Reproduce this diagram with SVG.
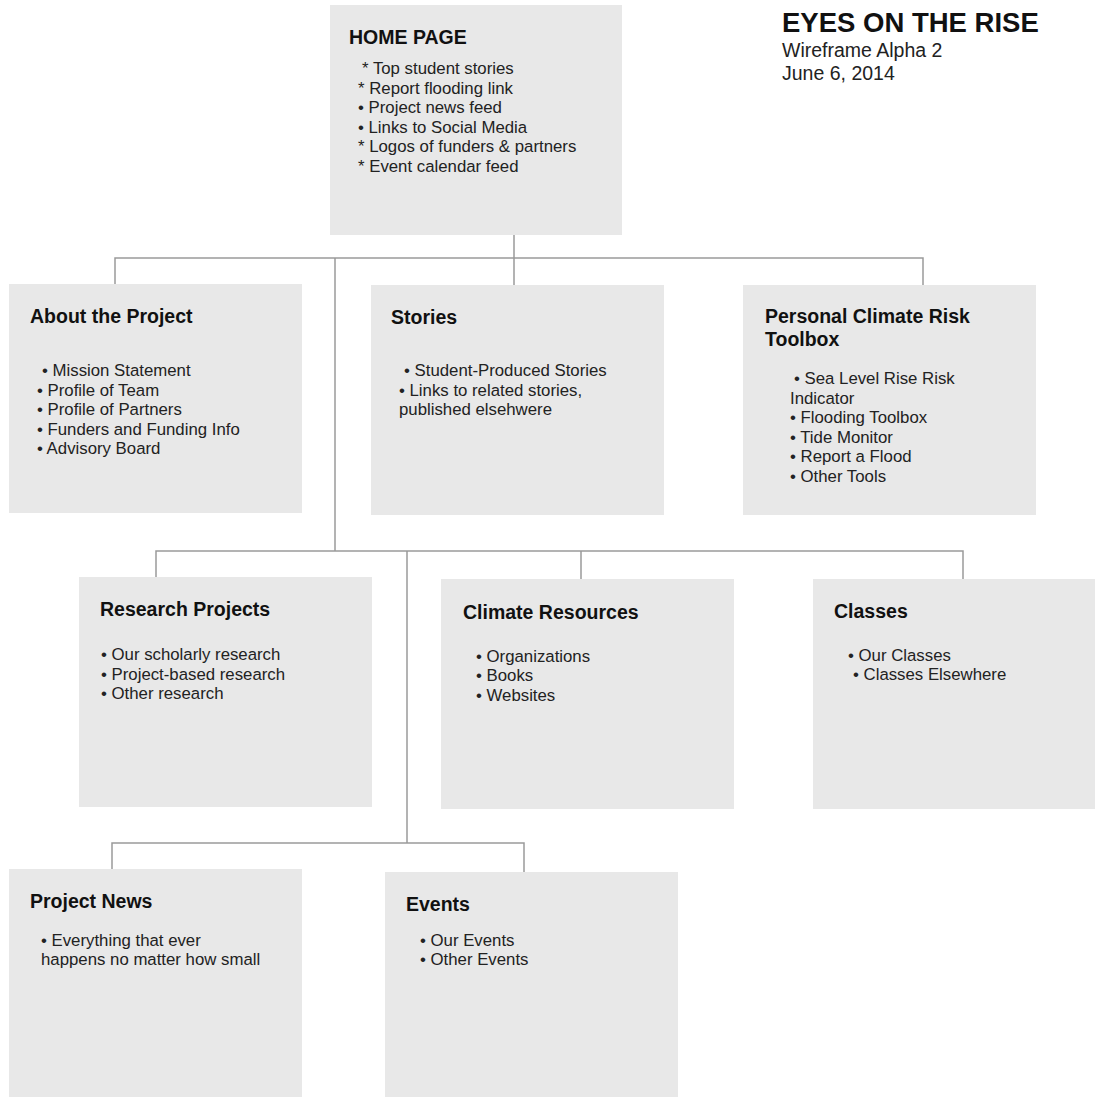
<svg xmlns="http://www.w3.org/2000/svg" width="1095" height="1097" viewBox="0 0 1095 1097">
<style>
.box{fill:#e8e8e8}
.h{font-family:"Liberation Sans",Arial,sans-serif;font-weight:bold;font-size:19.5px;fill:#111}
.t{font-family:"Liberation Sans",Arial,sans-serif;font-size:16.8px;fill:#222}
.c{fill:none;stroke:#9a9a9a;stroke-width:1.5}
</style>
<rect width="1095" height="1097" fill="#fff"/>
<g id="connectors" class="c">
<path d="M514 235V258M115 284V258H923V285M514 258V285M335 258V551"/>
<path d="M156 577V551H963V579M581 551V579M407 551V843"/>
<path d="M112 869V843H524V872"/>
</g>
<g id="title">
<text x="782" y="32" style="font-family:'Liberation Sans',Arial,sans-serif;font-weight:bold;font-size:27.5px;fill:#111">EYES ON THE RISE</text>
<text x="782" y="57" style="font-family:'Liberation Sans',Arial,sans-serif;font-size:19.5px;fill:#222">Wireframe Alpha 2</text>
<text x="782" y="80" style="font-family:'Liberation Sans',Arial,sans-serif;font-size:19.5px;fill:#222">June 6, 2014</text>
</g>
<g id="home">
<rect class="box" x="330" y="5" width="292" height="230"/>
<text class="h" x="349" y="44">HOME PAGE</text>
<text class="t" x="362" y="74">* Top student stories</text>
<text class="t" x="358" y="94">* Report flooding link</text>
<text class="t" x="358" y="113">• Project news feed</text>
<text class="t" x="358" y="133">• Links to Social Media</text>
<text class="t" x="358" y="152">* Logos of funders &amp; partners</text>
<text class="t" x="358" y="172">* Event calendar feed</text>
</g>
<g id="about">
<rect class="box" x="9" y="284" width="293" height="229"/>
<text class="h" x="30" y="323">About the Project</text>
<text class="t" x="42" y="376">• Mission Statement</text>
<text class="t" x="37" y="396">• Profile of Team</text>
<text class="t" x="37" y="415">• Profile of Partners</text>
<text class="t" x="37" y="435">• Funders and Funding Info</text>
<text class="t" x="37" y="454">• Advisory Board</text>
</g>
<g id="stories">
<rect class="box" x="371" y="285" width="293" height="230"/>
<text class="h" x="391" y="324">Stories</text>
<text class="t" x="404" y="376">• Student-Produced Stories</text>
<text class="t" x="399" y="396">• Links to related stories,</text>
<text class="t" x="399" y="415">published elsehwere</text>
</g>
<g id="toolbox">
<rect class="box" x="743" y="285" width="293" height="230"/>
<text class="h" x="765" y="323">Personal Climate Risk</text>
<text class="h" x="765" y="346">Toolbox</text>
<text class="t" x="794" y="384">• Sea Level Rise Risk</text>
<text class="t" x="790" y="404">Indicator</text>
<text class="t" x="790" y="423">• Flooding Toolbox</text>
<text class="t" x="790" y="443">• Tide Monitor</text>
<text class="t" x="790" y="462">• Report a Flood</text>
<text class="t" x="790" y="482">• Other Tools</text>
</g>
<g id="research">
<rect class="box" x="79" y="577" width="293" height="230"/>
<text class="h" x="100" y="616">Research Projects</text>
<text class="t" x="101" y="660">• Our scholarly research</text>
<text class="t" x="101" y="680">• Project-based research</text>
<text class="t" x="101" y="699">• Other research</text>
</g>
<g id="climate">
<rect class="box" x="441" y="579" width="293" height="230"/>
<text class="h" x="463" y="619">Climate Resources</text>
<text class="t" x="476" y="662">• Organizations</text>
<text class="t" x="476" y="681">• Books</text>
<text class="t" x="476" y="701">• Websites</text>
</g>
<g id="classes">
<rect class="box" x="813" y="579" width="282" height="230"/>
<text class="h" x="834" y="618">Classes</text>
<text class="t" x="848" y="661">• Our Classes</text>
<text class="t" x="853" y="680">• Classes Elsewhere</text>
</g>
<g id="news">
<rect class="box" x="9" y="869" width="293" height="228"/>
<text class="h" x="30" y="908">Project News</text>
<text class="t" x="41" y="946">• Everything that ever</text>
<text class="t" x="41" y="965">happens no matter how small</text>
</g>
<g id="events">
<rect class="box" x="385" y="872" width="293" height="225"/>
<text class="h" x="406" y="911">Events</text>
<text class="t" x="420" y="946">• Our Events</text>
<text class="t" x="420" y="965">• Other Events</text>
</g>
</svg>
